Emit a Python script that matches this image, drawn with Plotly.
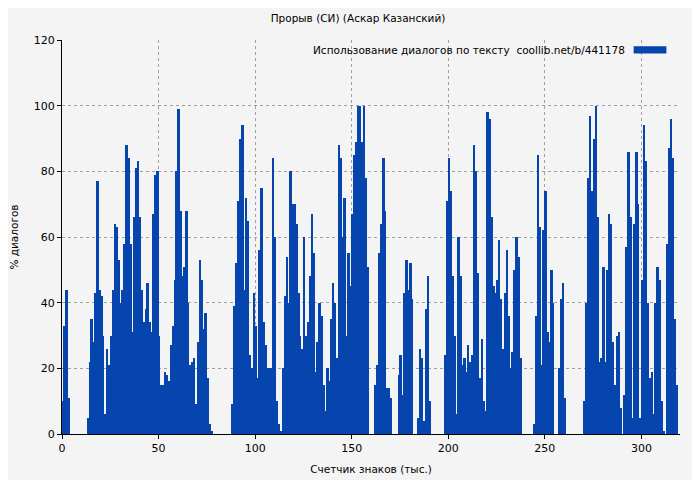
import plotly.graph_objects as go

# % of dialogue per 1000 characters
values = (
    [10, 33, 44, 11] + [0] * 9 +
    [5, 22, 35, 28, 43, 77, 44, 42, 30, 6, 26, 21, 30, 44, 64, 63, 53, 40, 44, 58,
     88, 84, 58, 31, 66, 81, 83, 66, 44, 34, 38, 46, 34, 31, 67, 79, 80, 30, 15, 15,
     19, 18, 16, 27, 33, 47, 80, 99, 68, 48, 51, 68, 40, 21, 22, 23, 9, 28, 53, 47,
     32, 37, 17, 3, 1] + [0] * 10 +
    [9, 39, 52, 71, 90, 94, 44, 72, 65, 24, 20, 43, 33, 17, 56, 75, 34, 27, 20, 20,
     20, 84, 60, 10, 3, 1, 20, 42, 54, 40, 80, 70, 70, 64, 43, 30, 26, 60, 30, 34,
     48, 67, 55, 19, 28, 40, 36, 15, 7, 20, 16, 35, 46, 40, 23, 88, 84, 60, 72, 30,
     55, 45, 67, 85, 89, 100, 100, 89, 100, 78, 51, 0, 0, 0, 15, 21, 55, 64, 84, 68,
     14, 14, 11, 0, 0, 0, 18, 24, 12, 43, 53, 44, 52, 41, 0, 0, 5, 26, 23, 4,
     38, 48, 10] + [0] * 7 +
    [24, 71, 84, 74, 48, 30, 6, 60, 48, 21, 23, 19, 27, 22, 24, 88, 80, 49, 17, 29,
     10, 7, 98, 96, 66, 45, 43, 47, 59, 41, 26, 43, 56, 36, 20, 25, 50, 60, 54, 23]
    + [0] * 6 +
    [3, 36, 85, 63, 21, 62, 74, 31, 28, 50, 40, 0, 0, 20, 41, 46, 11] + [0] * 9 +
    [10, 40, 78, 97, 74, 90, 100, 66, 22, 23, 51, 22, 50, 67, 64, 28, 15, 30, 31, 8,
     0, 12, 57, 86, 66, 5, 64, 86, 70, 5, 47, 94, 83, 40, 17, 19, 6, 40, 51, 47,
     10, 1, 0, 58, 87, 96, 84, 35, 15, 0]
)
positions = [i + 0.5 for i in range(len(values))]

fig = go.Figure(go.Bar(x=positions, y=values, width=1.0,
                       marker=dict(color="#0645ad", line_width=0),
                       showlegend=False))

grid = dict(showgrid=True, gridcolor="#a0a0a0", griddash="dot", gridwidth=1,
            showline=True, linecolor="black", linewidth=1, ticks="outside",
            ticklen=4, tickcolor="black", zeroline=False, mirror=False,
            automargin=False, tickfont=dict(size=11))

# page body has an 8px offset, so margins are shifted accordingly
fig.update_layout(
    width=700, height=480,
    margin=dict(l=54, r=28, t=32, b=54),
    paper_bgcolor="#f4f4f4", plot_bgcolor="#f4f4f4",
    font=dict(family="DejaVu Sans", size=11, color="black"),
    title=dict(text="Прорыв (СИ) (Аскар Казанский)", x=0.5, y=0.979,
               xanchor="center", yanchor="middle", font=dict(size=10.5)),
    xaxis=dict(title=dict(text="Счетчик знаков (тыс.)", standoff=11,
                          font=dict(size=10.5)),
               range=[0, 320], tickvals=[0, 50, 100, 150, 200, 250, 300], **grid),
    yaxis=dict(title=dict(text="% диалогов", standoff=14, font=dict(size=10.5)),
               range=[0, 120], tickvals=[0, 20, 40, 60, 80, 100, 120], **grid),
    bargap=0,
)
fig.add_annotation(text="Использование диалогов по тексту  coollib.net/b/441178",
                   xref="paper", yref="paper", x=0.915, y=0.975,
                   xanchor="right", yanchor="middle", showarrow=False,
                   font=dict(size=10.5))
fig.add_shape(type="rect", xref="paper", yref="paper", x0=0.925, x1=0.978,
              y0=0.966, y1=0.984, fillcolor="#0645ad", line_width=0)

fig.write_html("out.html")
